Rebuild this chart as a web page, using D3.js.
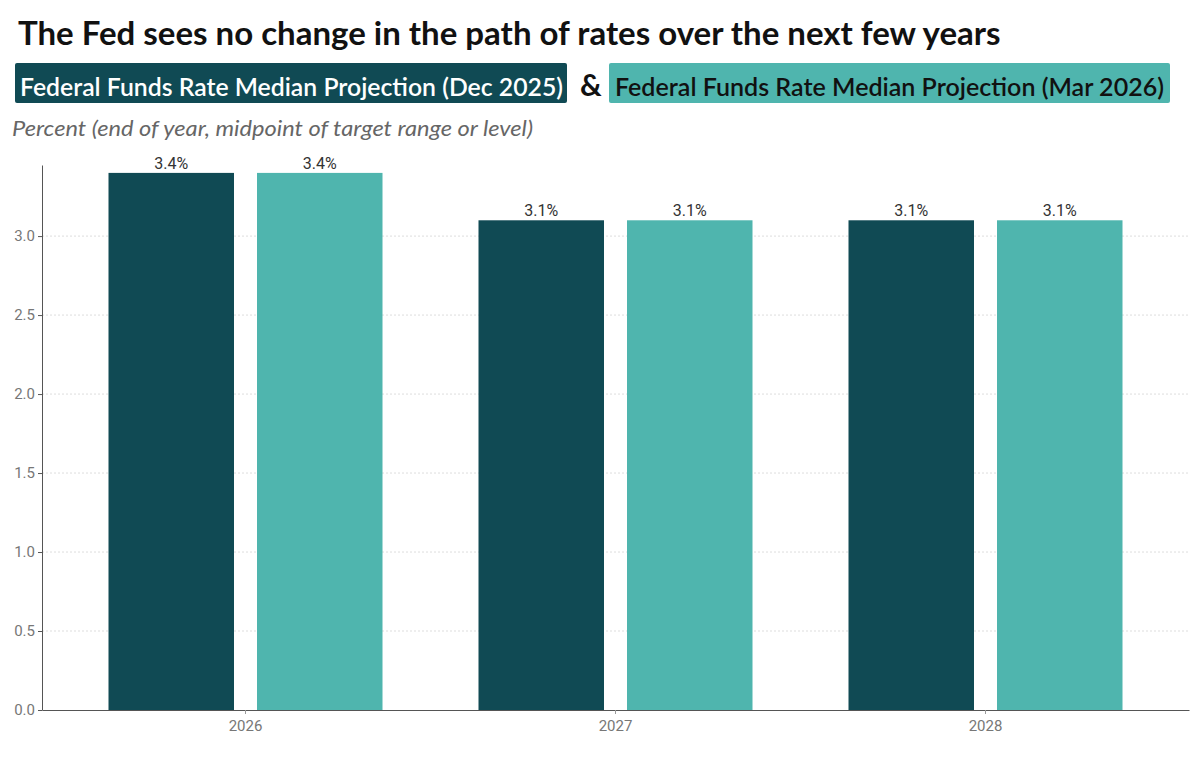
<!DOCTYPE html>
<html>
<head>
<meta charset="utf-8">
<script src="https://cdn.jsdelivr.net/npm/d3@7"></script>
<style>
  body { margin: 0; background: #fff; font-family: Lato, sans-serif; }
</style>
</head>
<body>
<div id="chart-area"></div>
<script>
const years = ["2026", "2027", "2028"];
const seriesNames = ["Federal Funds Rate Median Projection (Dec 2025)", "Federal Funds Rate Median Projection (Mar 2026)"];
const dec2025 = [3.4, 3.1, 3.1];
const mar2026 = [3.4, 3.1, 3.1];
const yTicks = [0, 0.5, 1.0, 1.5, 2.0, 2.5, 3.0];
const colors = ["#104a54", "#4fb5ae"];

const W = 1200, H = 766;
const MARGIN = { LEFT: 42, RIGHT: 11, TOP: 165, BOTTOM: 56 };

const svg = d3.select("#chart-area").append("svg")
  .attr("width", W)
  .attr("height", H);

// Title
svg.append("text")
  .attr("x", 18).attr("y", 45)
  .attr("font-family", "Lato")
  .attr("font-weight", "bold")
  .attr("font-size", "33px")
  .attr("fill", "#111")
  .text("The Fed sees no change in the path of rates over the next few years");

// Legend boxes
const legend = svg.append("g");
const l1 = legend.append("g");
l1.append("rect").attr("x", 15).attr("y", 63).attr("width", 552).attr("height", 40)
  .attr("rx", 2).attr("fill", colors[0]);
const t1 = l1.append("text").attr("x", 20).attr("y", 96)
  .attr("font-size", "24px").attr("font-weight", 600).attr("fill", "#fff")
  .text(seriesNames[0]);

legend.append("text").attr("x", 580).attr("y", 96)
  .attr("font-size", "30px").attr("font-weight", "bold").attr("fill", "#111")
  .text("&");

const l2 = legend.append("g");
l2.append("rect").attr("x", 609).attr("y", 63).attr("width", 561).attr("height", 40)
  .attr("rx", 2).attr("fill", colors[1]);
const t2 = l2.append("text").attr("x", 615).attr("y", 96)
  .attr("font-size", "24px").attr("font-weight", 600).attr("fill", "#111")
  .text(seriesNames[1]);

// fit legend labels to their boxes
[[t1, 543], [t2, 549]].forEach(([t, w]) => {
  const bw = t.node().getComputedTextLength();
  if (Math.abs(bw - w) > 4) t.attr("textLength", w).attr("lengthAdjust", "spacingAndGlyphs");
});

// Subtitle
svg.append("text")
  .attr("x", 12).attr("y", 136)
  .attr("font-size", "22px").attr("font-style", "italic").attr("fill", "#666")
  .attr("textLength", 521).attr("lengthAdjust", "spacingAndGlyphs")
  .text("Percent (end of year, midpoint of target range or level)");

const x = d3.scaleBand()
  .domain(years)
  .range([MARGIN.LEFT, W - MARGIN.RIGHT])
  .paddingInner(0)
  .paddingOuter(0.05);

const xSub = d3.scaleBand()
  .domain([0, 1])
  .range([-137, 137])
  .paddingInner(0.155);

const y = d3.scaleLinear()
  .domain([0, 3.45])
  .range([H - MARGIN.BOTTOM, MARGIN.TOP]);

const g = svg.append("g");

// grid
g.selectAll("line.grid")
  .data(yTicks.filter(d => d > 0))
  .enter().append("line")
  .attr("class", "grid")
  .attr("x1", MARGIN.LEFT).attr("x2", W - MARGIN.RIGHT)
  .attr("y1", d => y(d)).attr("y2", d => y(d))
  .attr("stroke", "#ddd").attr("stroke-dasharray", "2,2");

// bars
const rows = years.map((yr, i) => ({ year: yr, values: [dec2025[i], mar2026[i]] }));
const groups = g.selectAll("g.year").data(rows).enter().append("g")
  .attr("transform", d => `translate(${x(d.year) + x.bandwidth() / 2},0)`);

groups.selectAll("rect")
  .data(d => d.values.map((v, k) => ({ k, v })))
  .enter().append("rect")
  .attr("x", d => xSub(d.k))
  .attr("width", xSub.bandwidth())
  .attr("y", d => y(d.v))
  .attr("height", d => y(0) - y(d.v))
  .attr("fill", d => colors[d.k]);

groups.selectAll("text.val")
  .data(d => d.values.map((v, k) => ({ k, v })))
  .enter().append("text")
  .attr("class", "val")
  .attr("x", d => xSub(d.k) + xSub.bandwidth() / 2)
  .attr("y", d => y(d.v) - 4)
  .attr("text-anchor", "middle")
  .attr("font-family", "Roboto")
  .attr("font-size", "16px")
  .attr("fill", "#333")
  .text(d => d3.format(".1f")(d.v) + "%");

// axes
const yAxis = svg.append("g")
  .attr("transform", `translate(${MARGIN.LEFT},0)`)
  .call(d3.axisLeft(y).tickValues(yTicks).tickFormat(d3.format(".1f")).tickSize(4).tickSizeOuter(0));
yAxis.select(".domain").attr("stroke", "#555");
yAxis.selectAll(".tick line").attr("stroke", "#555");
yAxis.selectAll("text").attr("font-family", "Roboto").attr("font-size", "15px").attr("fill", "#777");

const xAxis = svg.append("g")
  .attr("transform", `translate(0,${y(0)})`)
  .call(d3.axisBottom(x).tickSize(4).tickSizeOuter(0));
xAxis.select(".domain").attr("stroke", "#555");
xAxis.selectAll(".tick line").attr("stroke", "#999");
xAxis.selectAll("text").attr("font-family", "Roboto").attr("font-size", "15px").attr("fill", "#777").attr("dy", "0.9em");
</script>
</body>
</html>
